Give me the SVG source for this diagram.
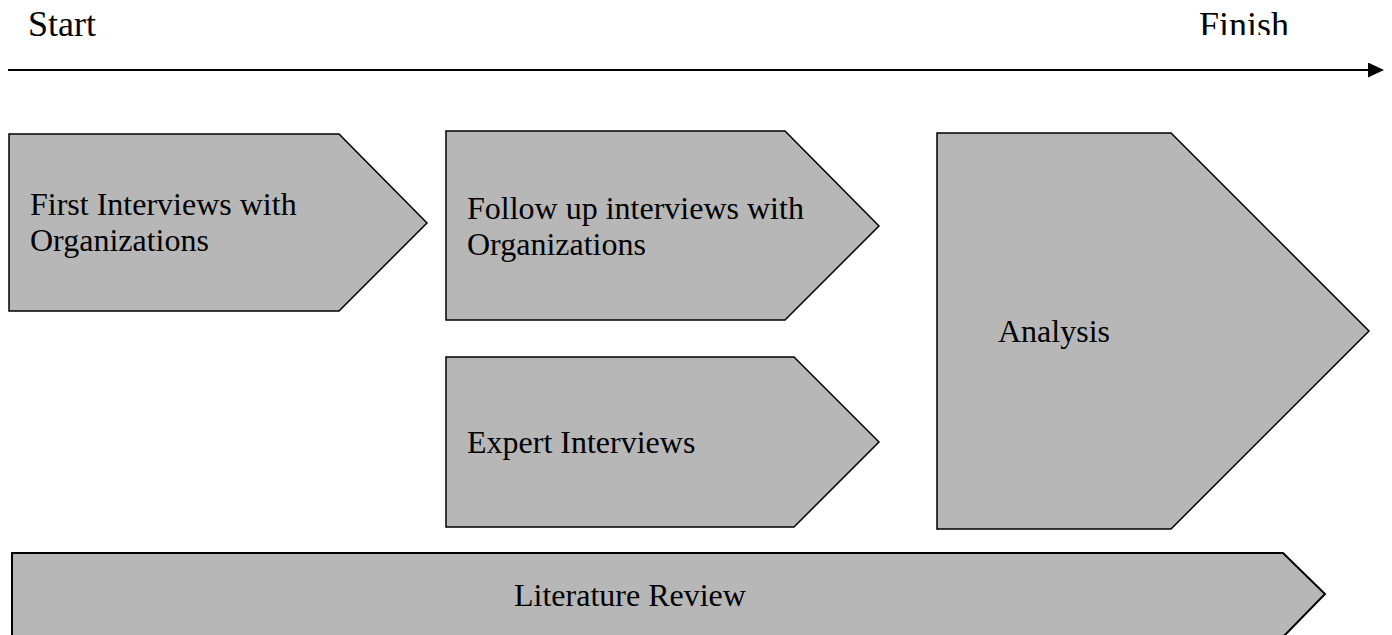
<svg xmlns="http://www.w3.org/2000/svg" width="1392" height="635" viewBox="0 0 1392 635">
<style>
.shape{fill:#b7b7b7;stroke:#000;stroke-width:1.5;stroke-linejoin:miter}
.lbl{font-family:"Liberation Serif","Times New Roman",serif;font-size:32px;fill:#000}
.end{font-size:36px}
</style>
<defs>
<marker id="ah" markerWidth="16" markerHeight="16" refX="0" refY="7.5" orient="auto" markerUnits="userSpaceOnUse">
<path d="M0,0 L16,7.5 L0,15 Z" fill="#000"/>
</marker>
<clipPath id="topclip"><rect x="0" y="0" width="1392" height="35"/></clipPath>
</defs>
<rect width="1392" height="635" fill="#fff"/>
<g id="connectors">
<line x1="8" y1="70" x2="1368" y2="70" stroke="#000" stroke-width="2" marker-end="url(#ah)"/>
</g>
<g id="start"><text class="lbl end" x="28" y="36">Start</text></g>
<g id="finish"><text class="lbl end" x="1199" y="37" clip-path="url(#topclip)">Finish</text></g>
<g id="first-interviews">
<polygon class="shape" points="9,134 339,134 427,223 339,311 9,311"/>
<text class="lbl" x="30" y="215">First Interviews with</text>
<text class="lbl" x="30" y="251">Organizations</text>
</g>
<g id="follow-up">
<polygon class="shape" points="446,131 785,131 879,226 785,320 446,320"/>
<text class="lbl" x="467" y="219">Follow up interviews with</text>
<text class="lbl" x="467" y="255">Organizations</text>
</g>
<g id="expert">
<polygon class="shape" points="446,357 794,357 879,442 794,527 446,527"/>
<text class="lbl" x="467" y="453">Expert Interviews</text>
</g>
<g id="analysis">
<polygon class="shape" points="937,133 1171,133 1369,331 1171,529 937,529"/>
<text class="lbl" x="998" y="342">Analysis</text>
</g>
<g id="literature">
<polygon class="shape" points="12,553 1283,553 1325,594 1282,638 12,638" style="stroke-width:2"/>
<text class="lbl" x="514" y="606">Literature Review</text>
</g>
</svg>
